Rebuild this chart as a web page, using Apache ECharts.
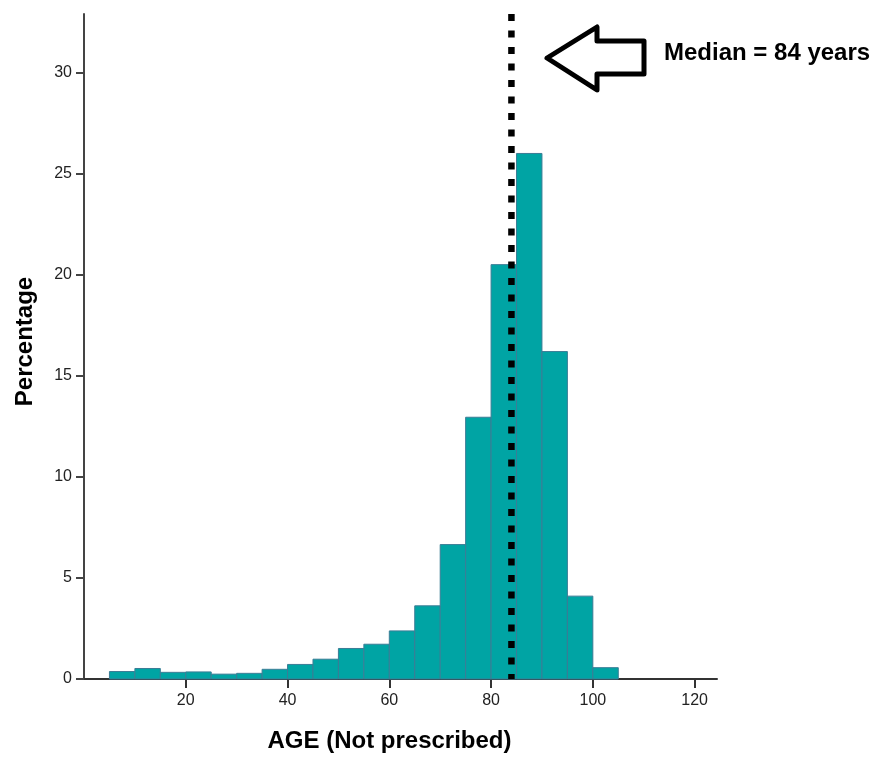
<!DOCTYPE html>
<html>
<head>
<meta charset="utf-8">
<script src="https://cdn.jsdelivr.net/npm/echarts@6/dist/echarts.min.js"></script>
<style>
  html, body { margin: 0; padding: 0; background: #fff; }
  #main { width: 880px; height: 758px; }
</style>
</head>
<body>
<div id="main"></div>
<script>
// histogram bins (age, 5-year bins) and percentage in each bin
let binStart = [5, 10, 15, 20, 25, 30, 35, 40, 45, 50, 55, 60, 65, 70, 75, 80, 85, 90, 95, 100];
let binEnd = [10, 15, 20, 25, 30, 35, 40, 45, 50, 55, 60, 65, 70, 75, 80, 85, 90, 95, 100, 105];
let percent = [0.37, 0.52, 0.33, 0.35, 0.24, 0.28, 0.48, 0.72, 0.98, 1.51, 1.72, 2.38, 3.62, 6.65, 12.95, 20.5, 26.0, 16.2, 4.1, 0.56];

let xTicks = [20, 40, 60, 80, 100, 120];
let yTicks = [0, 5, 10, 15, 20, 25, 30];
let median = 84;
let xMax = 124.4;
let yMax = 32.9;

let histData = [];
for (let i = 0; i < binStart.length; i++) {
    histData.push([binStart[i], binEnd[i], percent[i]]);
}

let myChart = echarts.init(document.getElementById('main'));

myChart.setOption({
    animation: false,
    grid: { left: 84, right: 163, top: 14, bottom: 75 },
    xAxis: {
        type: 'value',
        min: 0,
        max: xMax,
        name: 'AGE (Not prescribed)',
        nameLocation: 'middle',
        nameGap: 50,
        nameTextStyle: {
            fontFamily: 'Liberation Sans', fontWeight: 'bold', fontSize: 24, color: '#000',
            padding: [0, 22, 0, 0]
        },
        axisLine: { lineStyle: { color: '#333', width: 2 } },
        axisTick: { customValues: xTicks, length: 9, lineStyle: { color: '#333', width: 2 } },
        axisLabel: { customValues: xTicks, margin: 14, fontFamily: 'Liberation Sans', fontSize: 16, color: '#222' },
        splitLine: { show: false }
    },
    yAxis: {
        type: 'value',
        min: 0,
        max: yMax,
        name: 'Percentage',
        nameLocation: 'middle',
        nameGap: 47,
        nameTextStyle: {
            fontFamily: 'Liberation Sans', fontWeight: 'bold', fontSize: 24, color: '#000',
            padding: [0, 0, 0, 10]
        },
        axisLine: { show: true, lineStyle: { color: '#444', width: 2 } },
        axisTick: { show: true, customValues: yTicks, length: 8, lineStyle: { color: '#444', width: 2 } },
        axisLabel: { customValues: yTicks, margin: 12, fontFamily: 'Liberation Sans', fontSize: 16, color: '#222' },
        splitLine: { show: false }
    },
    series: [
        {
            type: 'custom',
            data: histData,
            encode: { x: [0, 1], y: 2 },
            renderItem: function (params, api) {
                let topLeft = api.coord([api.value(0), api.value(2)]);
                let bottomRight = api.coord([api.value(1), 0]);
                return {
                    type: 'rect',
                    shape: {
                        x: topLeft[0],
                        y: topLeft[1],
                        width: bottomRight[0] - topLeft[0],
                        height: bottomRight[1] - topLeft[1]
                    },
                    style: { fill: '#00a4a4', stroke: '#3b7d96', lineWidth: 1 }
                };
            },
            z: 2
        },
        {
            // median line
            type: 'line',
            data: [[median, yMax], [median, 0]],
            symbol: 'none',
            lineStyle: { color: '#000', width: 6.5, type: [7, 9.5] },
            z: 5
        }
    ],
    graphic: [
        {
            type: 'polygon',
            shape: {
                points: [[547, 58], [597, 27], [597, 41], [644, 41], [644, 74], [597, 74], [597, 90]]
            },
            style: { fill: '#fff', stroke: '#000', lineWidth: 5, lineJoin: 'round' },
            z: 10
        },
        {
            type: 'text',
            left: 664,
            top: 41,
            style: {
                text: 'Median = 84 years',
                fontFamily: 'Liberation Sans',
                fontWeight: 'bold',
                fontSize: 24,
                fill: '#000'
            },
            z: 10
        }
    ]
});
</script>
</body>
</html>
